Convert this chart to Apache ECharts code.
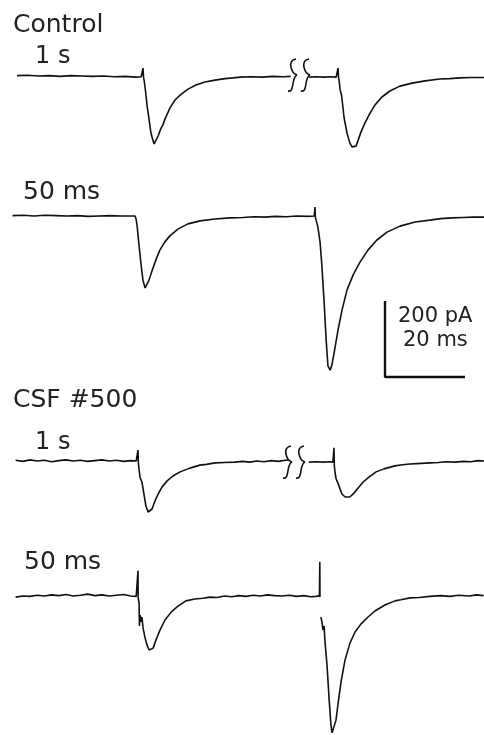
<!DOCTYPE html>
<html>
<head>
<meta charset="utf-8">
<script src="https://cdn.jsdelivr.net/npm/echarts@6/dist/echarts.min.js"></script>
<style>html,body{margin:0;padding:0;background:#fff}#c{width:484px;height:735px}</style>
</head>
<body>
<div id="c"></div>
<script>
// ---- data: [time (ms, relative to first stimulus of the sweep), current (pA)] ----
var controlLeft1s = [[-35,1],[-32,2],[-29,0],[-26,1],[-23,-1],[-20,1],[-17,0],[-14,-1],[-11,0],[-8,-2],[-5,-1],[-2,-3],[-0.5,-2],[0,21],[0.15,-3],[0.3,-11],[0.6,-32],[0.8,-48],[1.1,-77],[1.7,-117],[2.2,-152],[2.8,-173],[3.1,-181],[3.6,-176],[4.2,-160],[5.0,-139],[5.5,-131],[6.1,-115],[7.5,-85],[8.9,-64],[10.3,-51],[12.5,-35],[14.7,-24],[17.2,-16],[20,-11],[22.8,-7],[25,-5],[27,-3],[30,-2],[33,-3],[36,-1],[39,-2],[41,-1]];
var controlRight1s = [[-8,-3],[-6,-2],[-4,-3],[-2,-2],[-0.5,-3],[0,21],[0.15,-3],[0.3,-11],[0.6,-37],[1.0,-52],[1.2,-56],[1.7,-112],[2.5,-152],[3.3,-179],[3.9,-189],[4.4,-192],[5.0,-187],[5.6,-171],[6.4,-149],[7.5,-125],[8.9,-99],[10.3,-77],[12.2,-56],[14.4,-40],[17.2,-27],[20.6,-19],[24.2,-13],[28.3,-8],[31,-7],[33.9,-5],[37,-4],[41,-4]];
var control50 = [[-34,1],[-31,2],[-28,0],[-25,2],[-22,1],[-19,0],[-16,1],[-13,-1],[-10,0],[-7,1],[-4,0],[-1,0],[0,0],[0.3,-8],[0.6,-27],[1.1,-77],[1.7,-131],[2.2,-171],[2.8,-192],[3.3,-187],[3.9,-171],[4.7,-147],[5.8,-117],[6.9,-91],[8.3,-69],[9.7,-53],[11.9,-35],[14.7,-21],[18.1,-13],[22.2,-8],[26.4,-5],[30,-4],[33,-2],[36,-3],[39,-1],[42,-2],[45,0],[48,-1],[49.8,0],[50,24],[50.1,-3],[50.3,-11],[50.8,-29],[51.4,-69],[51.9,-131],[52.5,-224],[53.1,-331],[53.6,-400],[54.2,-411],[54.7,-397],[55.6,-349],[56.4,-304],[57.5,-251],[58.9,-197],[60.6,-157],[62.5,-123],[64.7,-91],[67.2,-64],[70,-43],[73.6,-27],[77.8,-16],[81.9,-11],[85,-7],[88,-5],[91,-4],[94,-3],[97,-3]];
var csfLeft1s = [[-34,2],[-32,-1],[-30,3],[-28,0],[-26,2],[-24,-2],[-22,1],[-20,3],[-18,0],[-16,2],[-14,-1],[-12,1],[-10,3],[-8,0],[-6,2],[-4,-1],[-2,1],[-0.5,0],[0,29],[0.1,-5],[0.3,-24],[0.6,-45],[0.8,-40],[1.1,-56],[1.7,-91],[2.2,-120],[2.8,-136],[3.3,-139],[3.9,-128],[4.7,-107],[5.6,-88],[6.7,-69],[8.1,-53],[9.7,-40],[11.7,-29],[14.4,-19],[17.2,-11],[19,-9],[21.4,-5],[24,-4],[26.9,-3],[29,-1],[31,-3],[33,0],[35,-2],[37,1],[39,-1],[41,2],[42,3]];
var csfRight1s = [[-7,-3],[-5,-2],[-3,-3],[-1,-2],[-0.3,-3],[0,35],[0.1,-13],[0.3,-32],[0.6,-48],[0.8,-45],[1.1,-59],[1.7,-75],[2.2,-88],[3.1,-96],[3.6,-99],[4.4,-96],[5.6,-85],[6.7,-72],[8.1,-56],[9.7,-43],[11.7,-29],[13.9,-21],[16.9,-13],[19,-10],[21.1,-8],[23,-7],[26.7,-5],[29,-4],[31,-2],[33.6,-3],[36,-1],[38,-2],[40,1],[42,0]];
var csf50 = [[-34,-3],[-32,0],[-30,-1],[-28,2],[-26,0],[-24,3],[-22,1],[-20,4],[-18,0],[-16,2],[-14,5],[-12,1],[-10,3],[-8,0],[-6,2],[-4,4],[-2,0],[-0.5,-1],[0,67],[0.05,-5],[0.3,-19],[0.4,-80],[0.6,-51],[0.8,-69],[1.1,-56],[1.4,-85],[1.9,-109],[2.5,-131],[3.1,-144],[3.6,-147],[4.2,-139],[5.0,-117],[6.1,-91],[7.5,-64],[9.2,-43],[11.1,-27],[13.3,-13],[15.8,-8],[18,-6],[20,-3],[22,-4],[24,0],[26,-2],[28,1],[30,-1],[32,2],[34,0],[36,3],[38,1],[40,0],[42,2],[44,-1],[46,1],[48,-2],[49.5,-1],[50.4,1],[50.5,91],[50.55,-3],[50.7,'-'],[50.8,-56],[51.1,-69],[51.4,-91],[51.7,-80],[51.9,-117],[52.5,-184],[53.1,-277],[53.6,-344],[53.9,-365],[54.4,-363],[55.0,-331],[55.6,-285],[56.4,-229],[57.5,-171],[58.9,-125],[60.3,-96],[61.9,-75],[63.9,-56],[65.8,-40],[68.6,-24],[71.4,-13],[73,-10],[75.6,-5],[78,-4],[81.1,-1],[84,1],[86.7,-1],[89,2],[92,0],[94,3],[96,1]];
// scale bar: 200 pA, 20 ms
var scaleBarPA = 200, scaleBarMS = 20;
var labels = ['Control', '1 s', '50 ms', 'CSF #500', '1 s', '50 ms', '200 pA', '20 ms'];

// ---- layout ----
var PX_PER_MS = 3.6, PX_PER_PA = 0.375, ABOVE = 40;
var traces = [
  {data: controlLeft1s, left: 0, right: 291, stimX: 143, base: 76, below: 160},
  {data: controlRight1s, left: 307, right: 484, stimX: 338, base: 76, below: 160},
  {data: control50, left: 0, right: 484, stimX: 135, base: 216, below: 160},
  {data: csfLeft1s, left: 0, right: 287, stimX: 138, base: 461, below: 120},
  {data: csfRight1s, left: 303, right: 484, stimX: 334, base: 461, below: 120},
  {data: csf50, left: 0, right: 484, stimX: 138, base: 596, below: 139}
];
var INK = '#111';
var grid = [], xAxis = [], yAxis = [], series = [];
traces.forEach(function (t, i) {
  grid.push({left: t.left, top: t.base - ABOVE, width: t.right - t.left, height: ABOVE + t.below});
  xAxis.push({type: 'value', gridIndex: i, show: false, min: (t.left - t.stimX) / PX_PER_MS, max: (t.right - t.stimX) / PX_PER_MS});
  yAxis.push({type: 'value', gridIndex: i, show: false, min: -t.below / PX_PER_PA, max: ABOVE / PX_PER_PA});
  series.push({type: 'line', xAxisIndex: i, yAxisIndex: i, data: t.data, showSymbol: false, symbol: 'none',
    connectNulls: false, lineStyle: {color: INK, width: 1.6}, silent: true});
});
// scale bar grid
var sbI = traces.length;
grid.push({left: 385, top: 301, width: 80, height: 76});
xAxis.push({type: 'value', gridIndex: sbI, show: false, min: 0, max: scaleBarMS});
yAxis.push({type: 'value', gridIndex: sbI, show: false, min: 0, max: scaleBarPA});
series.push({type: 'line', xAxisIndex: sbI, yAxisIndex: sbI, clip: false, showSymbol: false, symbol: 'none',
  data: [[0, scaleBarPA], [0, 0], [scaleBarMS, 0]], lineStyle: {color: INK, width: 2.4}, silent: true});

var FONT = '"DejaVu Sans", sans-serif';
function txt(s, x, y, size) {
  return {type: 'text', x: x, y: y, silent: true,
    style: {text: s, fill: '#222', font: 'normal ' + size + 'px ' + FONT, verticalAlign: 'middle'}};
}
function bz(x1, y1, c1x, c1y, c2x, c2y, x2, y2) {
  return {type: 'bezierCurve', silent: true,
    shape: {x1: x1, y1: y1, cpx1: c1x, cpy1: c1y, cpx2: c2x, cpy2: c2y, x2: x2, y2: y2},
    style: {fill: null, stroke: INK, lineWidth: 1.6}};
}
function curl(x, y) {
  return [bz(x + 8, y, x - 1, y + 1, x + 3, y + 14, x + 9, y + 16),
          bz(x + 9, y + 16, x + 3, y + 18, x + 7, y + 34, x, y + 32)];
}
var graphic = [
  txt(labels[0], 13, 25, 25),
  txt(labels[1], 35, 57, 24),
  txt(labels[2], 23, 192, 25),
  txt(labels[3], 13, 400, 25),
  txt(labels[4], 35, 443, 24),
  txt(labels[5], 24, 562, 25),
  txt(labels[6], 398, 317, 21),
  txt(labels[7], 403, 341, 21)
].concat(curl(288, 59), curl(301, 59), curl(283, 446), curl(296, 446));

var chart = echarts.init(document.getElementById('c'), null, {renderer: 'canvas'});
chart.setOption({animation: false, backgroundColor: '#fff', grid: grid, xAxis: xAxis, yAxis: yAxis, series: series, graphic: graphic});
</script>
</body>
</html>
